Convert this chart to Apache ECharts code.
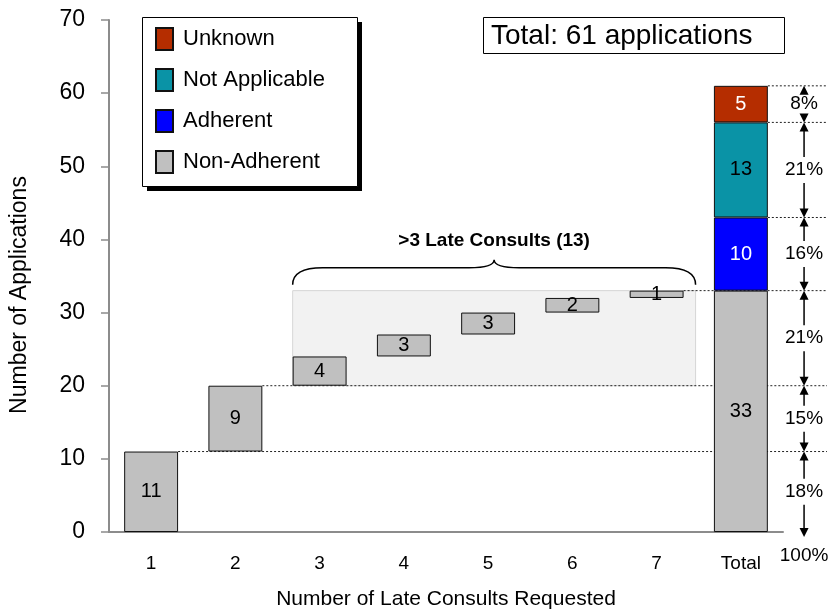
<!DOCTYPE html>
<html>
<head>
<meta charset="utf-8">
<script src="https://cdn.jsdelivr.net/npm/echarts@6/dist/echarts.min.js"></script>
<style>
  html, body { margin: 0; padding: 0; background: #fff; }
  #chart { width: 828px; height: 615px; }
</style>
</head>
<body>
<div id="chart"></div>
<script>
// ---- data ----
const categories = ['1', '2', '3', '4', '5', '6', '7', 'Total'];
const waterfallBase = [0, 11, 20, 24, 27, 30, 32, 0];
const nonAdherent = [11, 9, 4, 3, 3, 2, 1, 33];
const adherent = ['-', '-', '-', '-', '-', '-', '-', 10];
const notApplicable = ['-', '-', '-', '-', '-', '-', '-', 13];
const unknown = ['-', '-', '-', '-', '-', '-', '-', 5];
const yMin = 0, yMax = 70, yInterval = 10;
const totalApplications = 61;
const bracketBounds = [0, 11, 20, 33, 43, 56, 61];
const bracketLabels = ['18%', '15%', '21%', '16%', '21%', '8%'];
const bracketTotalLabel = '100%';
const connectorFrom = [0, 1, 6, 7, 7, 7];     // category index each dotted line starts from (for bracketBounds[1..])
const groupStartIdx = 2, groupEndIdx = 6;
const groupLabel = '>3 Late Consults (13)';

const FONT = "'Liberation Sans', Arial, sans-serif";
const BAR_FRAC = 0.64;

const chart = echarts.init(document.getElementById('chart'), null, { renderer: 'canvas' });

const connectorData = connectorFrom.map((c, i) => [c, bracketBounds[i + 1]]);
const bracketData = bracketLabels.map((l, i) => [7, bracketBounds[i], bracketBounds[i + 1], i]);
const groupBase = waterfallBase[groupStartIdx];
const groupTop = waterfallBase[groupEndIdx] + nonAdherent[groupEndIdx];

function barLabel(color) {
  return {
    show: true, position: 'inside', color: color, fontSize: 20, fontFamily: FONT,
    formatter: p => (p.value === '-' || p.value == null) ? '' : String(p.value)
  };
}
const barItem = c => ({ color: c, borderColor: '#111', borderWidth: 1 });

const option = {
  animation: false,
  textStyle: { fontFamily: FONT },
  title: {
    text: 'Total: ' + totalApplications + ' applications',
    left: 483, top: 17,
    borderColor: '#000', borderWidth: 1,
    padding: [4, 32, 3, 8],
    textStyle: { fontSize: 28, fontWeight: 'normal', color: '#000', fontFamily: FONT, lineHeight: 30 }
  },
  graphic: [
    { type: 'rect', z: 0, silent: true, shape: { x: 147, y: 22, width: 215, height: 169 }, style: { fill: '#000' } },
    { type: 'rect', z: 1, silent: true, shape: { x: 142.5, y: 17.5, width: 215, height: 169 }, style: { fill: '#fff', stroke: '#000', lineWidth: 1 } }
  ],
  legend: {
    data: ['Unknown', 'Not Applicable', 'Adherent', 'Non-Adherent'],
    orient: 'vertical',
    left: 142, top: 17,
    padding: [10, 20, 13, 13],
    itemWidth: 17, itemHeight: 22, itemGap: 17,
    icon: 'rect',
    z: 5,
    textStyle: { fontSize: 22, color: '#000', fontFamily: FONT, lineHeight: 22, padding: [0, 0, 0, 5] }
  },
  grid: { left: 109, right: 45, top: 20, bottom: 81, containLabel: false },
  xAxis: {
    type: 'category',
    data: categories,
    name: 'Number of Late Consults Requested',
    nameLocation: 'middle',
    nameGap: 57,
    nameTextStyle: { fontSize: 21, color: '#000', fontFamily: FONT },
    axisLine: { lineStyle: { color: '#8c8c8c', width: 2 } },
    axisTick: { show: false },
    axisLabel: { fontSize: 19, color: '#000', margin: 22, fontFamily: FONT }
  },
  yAxis: {
    type: 'value',
    min: yMin, max: yMax, interval: yInterval,
    name: 'Number of Applications',
    nameLocation: 'middle',
    nameGap: 78,
    nameRotate: 90,
    nameTextStyle: { fontSize: 23, color: '#000', fontFamily: FONT, padding: [0, 38, 0, 0] },
    axisLine: { show: true, lineStyle: { color: '#8c8c8c', width: 2 } },
    axisTick: { show: true, length: 8, lineStyle: { color: '#8c8c8c', width: 1.5 } },
    axisLabel: { fontSize: 23, color: '#000', margin: 24, fontFamily: FONT },
    splitLine: { show: false }
  },
  series: [
    // shaded group area + brace + label
    {
      type: 'custom', name: 'group', z: 1, silent: true, clip: false,
      data: [[groupStartIdx, groupEndIdx, groupBase, groupTop]],
      renderItem: function (params, api) {
        const bw = api.size([1, 0])[0] * BAR_FRAC;
        const xL = api.coord([api.value(0), 0])[0] - bw / 2;
        const xR = api.coord([api.value(1), 0])[0] + bw / 2 + 12;
        const yB = api.coord([0, api.value(2)])[1];
        const yT = api.coord([0, api.value(3)])[1];
        const xm = (xL + xR) / 2;
        const y1 = yT - 6, ym = yT - 23, yt = yT - 31;
        const pathData = 'M' + xL + ' ' + y1 +
          ' Q' + xL + ' ' + ym + ' ' + (xL + 30) + ' ' + ym +
          ' L' + (xm - 25) + ' ' + ym +
          ' Q' + xm + ' ' + ym + ' ' + xm + ' ' + yt +
          ' Q' + xm + ' ' + ym + ' ' + (xm + 25) + ' ' + ym +
          ' L' + (xR - 30) + ' ' + ym +
          ' Q' + xR + ' ' + ym + ' ' + xR + ' ' + y1;
        return {
          type: 'group',
          children: [
            { type: 'rect', shape: { x: xL, y: yT, width: xR - xL, height: yB - yT },
              style: { fill: '#f2f2f2', stroke: '#d6d6d6', lineWidth: 1 } },
            { type: 'path', shape: { pathData: pathData },
              style: { fill: null, stroke: '#000', lineWidth: 1.5 } },
            { type: 'text', x: xm, y: yT - 50,
              style: { text: groupLabel, fill: '#000', font: 'bold 19px ' + FONT, align: 'center', verticalAlign: 'middle' } }
          ]
        };
      }
    },
    // dotted connector lines
    {
      type: 'custom', name: 'connectors', z: 1, silent: true, clip: false,
      data: connectorData,
      renderItem: function (params, api) {
        const bw = api.size([1, 0])[0] * BAR_FRAC;
        const p = api.coord([api.value(0), api.value(1)]);
        return {
          type: 'line',
          shape: { x1: p[0] + bw / 2, y1: p[1], x2: api.getWidth() - 1, y2: p[1] },
          style: { stroke: '#222', lineWidth: 1, lineDash: [2, 2] }
        };
      }
    },
    {
      name: 'base', type: 'bar', stack: 'w', barWidth: (BAR_FRAC * 100) + '%',
      itemStyle: { color: 'rgba(0,0,0,0)', borderWidth: 0 },
      emphasis: { disabled: true }, silent: true,
      data: waterfallBase
    },
    { name: 'Non-Adherent', type: 'bar', stack: 'w', z: 3, itemStyle: barItem('#c0c0c0'), label: barLabel('#000'), data: nonAdherent },
    { name: 'Adherent', type: 'bar', stack: 'w', z: 3, itemStyle: barItem('#0000ff'), label: barLabel('#fff'), data: adherent },
    { name: 'Not Applicable', type: 'bar', stack: 'w', z: 3, itemStyle: barItem('#0a93a6'), label: barLabel('#000'), data: notApplicable },
    { name: 'Unknown', type: 'bar', stack: 'w', z: 3, itemStyle: barItem('#b52d00'), label: barLabel('#fff'), data: unknown },
    // percentage brackets on the right
    {
      type: 'custom', name: 'brackets', z: 4, silent: true, clip: false,
      data: bracketData,
      renderItem: function (params, api) {
        const bandW = api.size([1, 0])[0];
        const x = api.coord([api.value(0), 0])[0] + bandW * 0.75;
        const lo = api.value(1), hi = api.value(2), idx = api.value(3);
        const yHi = api.coord([0, hi])[1];
        const yLo = api.coord([0, lo])[1] + (lo === 0 ? 5 : 0);
        const yMid = (api.coord([0, hi])[1] + api.coord([0, lo])[1]) / 2;
        const ah = 9, aw = 4.5, gap = 13;
        const kids = [];
        kids.push({ type: 'text', x: x, y: yMid,
          style: { text: bracketLabels[idx], fill: '#000', font: '19px ' + FONT, align: 'center', verticalAlign: 'middle' } });
        if (yMid - gap > yHi + ah) {
          kids.push({ type: 'line', shape: { x1: x, y1: yMid - gap, x2: x, y2: yHi + ah - 1 }, style: { stroke: '#000', lineWidth: 1.5 } });
        }
        kids.push({ type: 'polygon', shape: { points: [[x, yHi], [x - aw, yHi + ah], [x + aw, yHi + ah]] }, style: { fill: '#000' } });
        if (yMid + gap < yLo - ah) {
          kids.push({ type: 'line', shape: { x1: x, y1: yMid + gap, x2: x, y2: yLo - ah + 1 }, style: { stroke: '#000', lineWidth: 1.5 } });
        }
        kids.push({ type: 'polygon', shape: { points: [[x, yLo], [x - aw, yLo - ah], [x + aw, yLo - ah]] }, style: { fill: '#000' } });
        if (lo === 0) {
          kids.push({ type: 'text', x: x, y: yLo + 19,
            style: { text: bracketTotalLabel, fill: '#000', font: '19px ' + FONT, align: 'center', verticalAlign: 'middle' } });
        }
        return { type: 'group', children: kids };
      }
    }
  ]
};
chart.setOption(option);
</script>
</body>
</html>
